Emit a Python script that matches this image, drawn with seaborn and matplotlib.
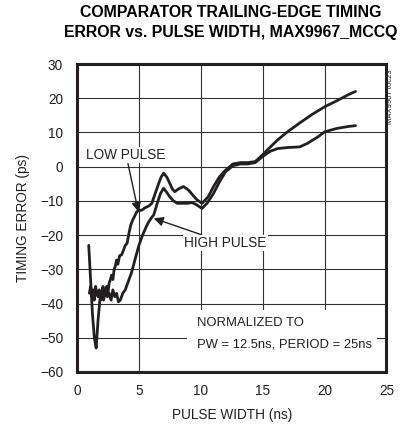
import pandas as pd
import matplotlib.pyplot as plt
import seaborn as sns
from matplotlib import font_manager
from matplotlib.patches import Rectangle

# Trailing-edge timing error (ps) vs pulse width (ns)
low_x = [1.0, 1.1, 1.2, 1.3, 1.4, 1.5, 1.6, 1.7, 1.8, 1.9, 2.0, 2.1, 2.2, 2.3, 2.4,
         2.5, 2.6, 2.7, 2.8, 2.9, 3.0, 3.1, 3.2, 3.3, 3.45, 3.6, 3.75, 3.9, 4.05, 4.2,
         4.35, 4.5, 4.65, 4.83, 5.0, 5.24, 5.5, 5.8, 6.05, 6.3, 6.6, 6.8, 7.0, 7.25,
         7.5, 7.7, 7.9, 8.2, 8.6, 9.0, 9.4, 9.7, 10.1, 10.6, 11.0, 11.5, 12.0, 12.6,
         13.2, 13.8, 14.4, 15.0, 15.6, 16.2, 17.0, 18.0, 19.0, 20.0, 21.0, 22.0, 22.5]
low_y = [-37, -35, -38, -36, -39, -35, -37, -38, -36, -39, -37, -35, -38, -36, -35,
         -37, -34, -33, -31.7, -33, -30, -29, -27.3, -28.5, -26, -25.8, -24.5, -23, -22.4, -19.4,
         -17, -15.6, -14.5, -13.2, -12.8, -12.7, -12, -11.5, -10.7, -8, -4.9, -3, -1.9, -3,
         -4.9, -6.5, -7.3, -6.5, -5.8, -6.8, -8.5, -9.7, -10.7, -8.8, -6, -3, -1, 0.8,
         1.2, 1.2, 1.5, 3.5, 5.7, 7.8, 10.2, 12.8, 15.3, 17.5, 19.3, 21.2, 22]

high_x = [0.95, 1.1, 1.25, 1.4, 1.55, 1.7, 1.85, 2.0, 2.15, 2.3, 2.45, 2.6, 2.75, 2.9,
          3.05, 3.2, 3.35, 3.5, 3.7, 3.9, 4.1, 4.4, 4.7, 5.0, 5.3, 5.6, 5.8, 6.0, 6.2,
          6.5, 6.75, 7.0, 7.25, 7.5, 7.8, 8.1, 8.5, 8.9, 9.3, 9.6, 10.1, 10.5, 11.0,
          11.5, 12.0, 12.6, 13.2, 13.8, 14.4, 15.0, 15.6, 16.2, 17.0, 18.0, 18.6, 19.5,
          20.0, 21.0, 22.0, 22.5]
high_y = [-23, -33, -43, -50, -53, -45, -39, -37, -39, -36, -38, -37, -39, -36,
          -38, -37, -39.5, -39, -37, -36, -34, -31, -27, -23, -20, -17.5, -16.1, -15, -14.1,
          -10.5, -7.8, -6.3, -7.5, -8.8, -10, -10.7, -10.7, -10.7, -10.5, -11, -12.2, -10.7, -8,
          -4.5, -1.5, 0.3, 0.8, 0.8, 1.2, 3, 4.5, 5.3, 5.6, 5.8, 6.8, 8.8,
          10.2, 11.2, 11.8, 12]

x_ticks = [0, 5, 10, 15, 20, 25]
y_ticks = [30, 20, 10, 0, -10, -20, -30, -40, -50, -60]

df = pd.concat([
    pd.DataFrame({'pw': low_x, 'err': low_y, 'pulse': 'LOW PULSE'}),
    pd.DataFrame({'pw': high_x, 'err': high_y, 'pulse': 'HIGH PULSE'}),
])

sns.set_style('white')
names = {f.name for f in font_manager.fontManager.ttflist}
if 'Liberation Sans Narrow' in names:
    body_font, body_size, note_size = 'Liberation Sans Narrow', 11.5, 11.5
else:
    body_font, body_size, note_size = 'Liberation Sans', 9.8, 9.4
plt.rcParams['font.family'] = [body_font, 'DejaVu Sans']

ink = '#231f20'
fig = plt.figure(figsize=(4.03, 4.33), dpi=100)
ax = fig.add_axes([0.191, 0.141, 0.768, 0.711])

sns.lineplot(data=df, x='pw', y='err', units='pulse', estimator=None, sort=False,
             color=ink, linewidth=2.0, ax=ax, zorder=3)

ax.set_xlim(0, 25)
ax.set_ylim(-60, 30)
ax.set_xticks(x_ticks)
ax.set_yticks(y_ticks)
ax.set_axisbelow(True)
ax.grid(True, color='#333333', linewidth=0.8)
ax.tick_params(length=0, labelsize=body_size, colors=ink)
ax.tick_params(axis='y', pad=10)
ax.tick_params(axis='x', pad=9)
for s in ax.spines.values():
    s.set_linewidth(2.2)
    s.set_color(ink)
ax.set_xlabel('PULSE WIDTH (ns)', fontsize=body_size, color=ink, labelpad=7)
ax.set_ylabel('TIMING ERROR (ps)', fontsize=body_size, color=ink, labelpad=7)

# white block behind the normalization note
ax.add_patch(Rectangle((0.357, 0.0), 0.613, 0.2, transform=ax.transAxes,
                       facecolor='white', edgecolor='none', zorder=1.5))
ax.text(9.7, -45.7, 'NORMALIZED TO', fontsize=note_size, color=ink,
        ha='left', va='center', zorder=4)
ax.text(9.7, -52.1, 'PW = 12.5ns, PERIOD = 25ns', fontsize=note_size, color=ink,
        ha='left', va='center', zorder=4)

arrow = dict(arrowstyle='-|>', color=ink, lw=1.0, mutation_scale=14, shrinkA=0, shrinkB=0)
ax.annotate('LOW PULSE', xy=(4.96, -13.2), xytext=(3.97, 3.4), fontsize=body_size,
            color=ink, ha='center', va='center', arrowprops=arrow, zorder=4,
            bbox=dict(fc='white', ec='none', pad=1))
ax.annotate('HIGH PULSE', xy=(6.2, -15.1), xytext=(12.0, -22.3), fontsize=body_size,
            color=ink, ha='center', va='center', arrowprops=arrow, zorder=4,
            bbox=dict(fc='white', ec='none', pad=1))

fig.text(0.573, 0.970, 'COMPARATOR TRAILING-EDGE TIMING', fontsize=11.4,
         fontweight='bold', family=['Liberation Sans', 'DejaVu Sans'],
         ha='center', va='center', color='black')
fig.text(0.572, 0.924, 'ERROR vs. PULSE WIDTH, MAX9967_MCCQ', fontsize=11.4,
         fontweight='bold', family=['Liberation Sans', 'DejaVu Sans'],
         ha='center', va='center', color='black')
fig.text(0.968, 0.776, 'MAX9967 toc23', fontsize=5.5, rotation=90,
         ha='center', va='center', color=ink)

fig.savefig('out.png', dpi=100)
